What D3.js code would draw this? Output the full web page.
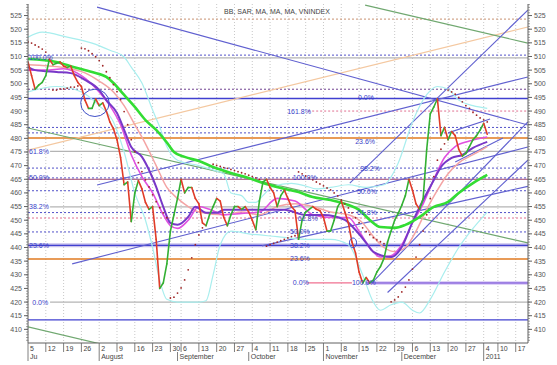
<!DOCTYPE html>
<html><head><meta charset="utf-8">
<script src="https://cdn.jsdelivr.net/npm/d3@7"></script>
<style>body{margin:0;background:#fff}svg{display:block}text{font-family:"Liberation Sans",Arial,sans-serif}</style>
</head><body><svg id="c" width="557" height="365"></svg>
<script>
// ---------- DATA ----------
const title = "BB, SAR, MA, MA, MA, VNINDEX";
const yTickVals = d3.range(410, 526, 5);
const tickDays = [0,5,10,15,20,25,30,35,40,43,48,53,58,63,68,73,78,83,88,93,98,103,108,113,118,123,128,132,137];
const tickLabels = ["5","12","19","26","2","9","16","23","30","6","13","20","27","4","11","18","25","1","8","15","22","29","6","13","20","27","4","10","17"];
const monthDays = [0,20,42,62,83,105,128];
const monthLabels = ["Ju","August","September","October","November","December","2011"];

// close (trading-day index -> VNINDEX)
const priceVal = [508,503,498,499.5,500.5,503,509,507,507.5,508,506.5,506,506.5,503,500.5,499,494,491,491,494.5,
 492,493,490,486,483.5,479.5,473,463,464,449.5,460,464.5,461.5,456.5,454,455,443,425,427,434,
 446,452,458,465,460,462,462,458,456,449,448,452,455,458,457,451,448,452,455,455,
 454,455,453,450,446.5,457,464,465,462,460,455,459,461,458,455,453.5,443,450,453,454,
 455,454,453.5,451,446,446,450,455,457,453,449,442,438,431,427,429,427,428,431,433,
 436,442,446,450,452.5,455.5,459,465,461,456,454,458,476,489,491.5,494.5,481,484,479.5,482.5,
 481,476,473.5,474.5,477,479.5,481,483,485.5,481.5];

const maGreenDay = [0,8,13,18,22,24,27,30,33,36,39,41,44,48,52,57,62,66,71,76,80,85,90,93,96,99,103,106,110,114,118,121,125,129];
const maGreenVal = [509.1,508,506.1,504.3,502.5,500.3,495.9,491.5,486.7,483.1,478.5,475,473.2,471.7,469.5,467.3,465.5,463.6,461.8,460.3,458.5,457.4,455.6,453.8,450.1,447.5,447.2,448.3,451.2,454.9,456.7,460,463.6,466.6];

const maPurpleDay = [0,2,8,12,16,20,22,25,27,29,32,34,36,38,40,42,45,47,50,53,55,61,67,72,78,83,89,92,95,97,102,105,108,111,114,116,119,122,125,129];
const maPurpleVal = [506.1,505,504.3,503.9,501.4,497.7,494,489.3,483.1,476.8,473.2,468.4,462.2,454.9,449,448.3,451.2,454.9,452.7,452.7,453.8,453.8,453.8,453.8,451.9,451.9,450.1,446.4,441.7,438.4,436.5,440.2,449.3,457.4,464.7,469.5,472.8,473.9,476.5,478.7];

const maMagentaDay = [0,5,10,15,20,23,26,29,32,35,38,40,42,45,48,51,55,60,65,70,75,80,85,90,93,96,99,102,105,108,111,114,117,120,124,129];
const maMagentaVal = [505,505,505.5,503,497,492,485,474,466,460,452,448,447,450,455,454,452,452.5,453,458,457,452,451,451,446,440,436.5,437,441,449,456,465,473,477,479,480.5];

const maPinkDay = [0,10,16,20,24,27,30,33,36,39,42,45,48,55,60,65,70,75,80,85,90,94,97,100,103,106,109,112,115,118,121,125,129];
const maPinkVal = [507,506,504,501,497,492,485,478,470,462,458,455,453,452,453,452,455,456,455,453,452,449,444,440,438.5,440,446,454,461,467,471,474,477];

const bbUpDay = [0,4,11,18,23,27,29,32,35,37,39,42,48,53,55,57,60,62,64,66,69,74,78,81,85,90,95,100,104,108,112,115,118,121,125,129];
const bbUpVal = [517.1,518.9,517.1,514.9,512.3,509.8,506.1,500.3,490.4,484.2,477,472,470,468,467,460,459,456.5,456.5,459,462.5,463.5,462.5,461.5,462,463,462,463,471,486,496,499,498,494,492,491];
const bbLoDay = [0,8,15,20,24,27,30,33,35,37,39,42,48,50,52,54,57,62,70,78,85,90,94,97,99,102,105,108,110,113,117,121,125,129];
const bbLoVal = [497,499,497,492,486,475,460,450,440,428,421,420,420,420.5,430,441,446,445,444,443,443,441,430,420,417,419,420,417,416,421,431,440,447,453];

// parabolic SAR dots
const sarDay = [0,1,2,3,4,5, 7,8,9,10,11,12,13,14,
 15,16,17,18,19,20,21,22,23,24,25,26,27,28,29,30,31,32,33,34,35,36,37,38,39,
 40,41,42,43,44,45,46,47,48,49,
 52,53,54,55,56,57,58,59,60,61,62,63,64,65,
 67,68,69,70,71,72,73,74,75,
 76,77,78,79,80,81,82,83,84,85,86,87,88,89,90,91,92,93,94,95,96,97,98,99,100,
 102,103,104,105,106,107,108,109,110,111,112,113,114,115,116,117,
 118,119,120,121,122,123,124,125,126,127,128,129];
const sarVal = [515.3,514.9,514.2,513.5,512.7,511.6, 497.7,497.7,498.1,498.1,498.4,498.8,498.8,499.2,
 513.1,512.8,512.1,511,509.9,508.5,506.6,504.4,502.2,499.7,497.1,494.2,489.8,485,479.5,475.1,471.1,467.8,464.8,462.2,459.3,456.8,454.6,452.7,450.9,
 421.5,421.8,423.3,425.2,428.1,431.8,436.2,441,444.6,447.2,
 470.5,470.1,469.7,469.3,469,468.6,468.2,467.8,467.4,467,466.5,466,465.5,465,
 440.5,441,441.5,442,442.5,443,443.5,444,444.3,
 467.7,467,466.2,465.5,464.8,464,463.3,462.6,461.8,461.1,460,458.9,457.4,456,454.5,452.7,450.9,449.1,447.2,445.8,444.7,443.6,442.8,442.1,441.4,
 420.1,420.8,421.9,423.7,425.5,428.1,432.1,436.5,441,446,452,458,466,472,476,478,
 497.7,497,496.2,495,493.4,492,491,489.5,488.5,487.5,486.8,486];

// horizontal levels [fromDay, value]
const dottedBlue = [[0,510.5],[0,484],[0,482],[0,469.1],[0,465.5],[0,460.8],[0,452.8],[0,445.7]];
const dottedPurple = [[0,498]];
const dottedPink = [[78.7,490],[0,450.8]];
const dottedBrown = [[0,523.7]];
const solidGray = [[0,509.5],[6.2,475.2],[6.2,454.9],[6.2,420]];
const solidOrange = [[0,480.1],[0,435.8]];
const solidBlue = [[0,494.6],[0,440.8],[0,413.5]];
const solidMaroon = [[0,465]];
const pinkSeg = [78.4, 91, 427];
const lavenderSeg = [94.7, 140.5, 427];

// trend lines [day0, val0, day1, val1]
const blueTrends = [[19.4,528.1,140.4,484.9],[19.4,462.9,140.4,502.5],[12.4,434,140.4,476.8],
 [90.4,463.6,140.4,527],[96.6,427,140.4,486],[101,423.5,140.4,472],[65.7,440.6,140.4,462.4],
 [118,482,129.8,487.1],[120,471.3,133.4,480.1]];
const greenTrends = [[94.7,528.8,140.4,514.9],[0,483.8,140.4,441.7],[0,410.9,20.2,404.7]];
const tanTrends = [[0,475.7,140.4,520.8]];

// fib labels [text, day, value]
const fibLabels = [["100.0%",0.3,509.8],["61.8%",0.3,475.2],["50.0%",0.3,465.5],["38.2%",0.3,454.9],["23.6%",0.3,440.8],["0.0%",1.2,420],
 ["100.0%",74.4,465.8],["61.8%",75.8,450.8],["50.0%",73.6,446],["38.2%",73.6,440.8],["23.6%",73.6,435.8],["0.0%",74.4,427],["100.0%",91,427],
 ["0.0%",92.7,494.8],["161.8%",72.8,490],["23.6%",91.9,478.8],["38.2%",93.3,469.1],["50.0%",92.4,460.7],["61.8%",92.4,452.8]];

const circles = [[18.8,493,4,5],[91.3,441.7,1,1.8]];

// ---------- CHART ----------
const svg = d3.select("#c");
const L = 28, R = 528, T = 4, B = 343;
const x = d3.scaleLinear().domain([0, 140.45]).range([L, R]);
const y = d3.scaleLinear().domain([405, 530.7]).range([B, 0]);

svg.append("defs").append("clipPath").attr("id","pc").append("rect")
  .attr("x",L).attr("y",T).attr("width",R-L).attr("height",B-T);
const g = svg.append("g").attr("clip-path","url(#pc)");

// vertical grid
g.selectAll(".vg").data(tickDays).enter().append("line")
  .attr("x1",d=>x(d)).attr("x2",d=>x(d)).attr("y1",T).attr("y2",B)
  .attr("stroke","#c8c8c8").attr("stroke-dasharray","1,2");

function hlines(data, color, w, dash){
  g.selectAll(null).data(data).enter().append("line")
   .attr("x1",d=>x(d[0])).attr("x2",R).attr("y1",d=>y(d[1])).attr("y2",d=>y(d[1]))
   .attr("stroke",color).attr("stroke-width",w).attr("stroke-dasharray",dash||null);
}
hlines(solidBlue.slice(1,2), "#c8c0ec", 4);
hlines(dottedBrown, "#c89070", 1, "2,2");
hlines(dottedBlue, "#5050c8", 1, "2,2");
hlines(dottedPurple, "#704090", 1, "2,2");
hlines(dottedPink, "#e07090", 1, "2,2");
hlines(solidGray, "#b4b4b4", 1.2);
hlines(solidOrange, "#e07a20", 1.5);
hlines(solidMaroon, "#a04870", 1);
hlines(solidBlue, "#4040d0", 1.3);
g.append("line").attr("x1",x(lavenderSeg[0])).attr("x2",x(lavenderSeg[1])).attr("y1",y(lavenderSeg[2])).attr("y2",y(lavenderSeg[2]))
  .attr("stroke","#c0a8f0").attr("stroke-width",3);
g.append("line").attr("x1",x(lavenderSeg[0])).attr("x2",x(lavenderSeg[1])).attr("y1",y(lavenderSeg[2])).attr("y2",y(lavenderSeg[2]))
  .attr("stroke","#8060d8").attr("stroke-width",1);
g.append("line").attr("x1",x(pinkSeg[0])).attr("x2",x(pinkSeg[1])).attr("y1",y(pinkSeg[2])).attr("y2",y(pinkSeg[2]))
  .attr("stroke","#f07090").attr("stroke-width",1.2);

function trends(data, color, w){
  g.selectAll(null).data(data).enter().append("line")
   .attr("x1",d=>x(d[0])).attr("y1",d=>y(d[1])).attr("x2",d=>x(d[2])).attr("y2",d=>y(d[3]))
   .attr("stroke",color).attr("stroke-width",w);
}
trends(tanTrends, "#f4c8a0", 1.2);
trends(greenTrends, "#70a870", 1.2);
trends(blueTrends, "#6060d0", 1.1);

// Bollinger + moving averages
function curve(days, vals, color, w){
  g.append("path").datum(days.map((d,i)=>[d, vals[i]]))
   .attr("d", d3.line().x(d=>x(d[0])).y(d=>y(d[1])).curve(d3.curveMonotoneX))
   .attr("fill","none").attr("stroke",color).attr("stroke-width",w);
}
curve(bbUpDay, bbUpVal, "#a8eeee", 1.2);
curve(bbLoDay, bbLoVal, "#a8eeee", 1.2);
curve(maPinkDay, maPinkVal, "#f4a4a4", 1.5);
curve(maMagentaDay, maMagentaVal, "#e050e0", 1.6);
curve(maPurpleDay, maPurpleVal, "#7838c8", 2);
curve(maGreenDay, maGreenVal, "#33dd33", 2.6);

// price
const segs = priceVal.slice(1).map((v,i)=>[i, priceVal[i], i+1, v]);
g.selectAll(".ps").data(segs).enter().append("line")
  .attr("x1",d=>x(d[0])).attr("y1",d=>y(d[1])).attr("x2",d=>x(d[2])).attr("y2",d=>y(d[3]))
  .attr("stroke",d=>d[3]>=d[1]?"#33b033":"#e03c28").attr("stroke-width",1.6).attr("stroke-linecap","round");

// SAR
g.selectAll(".sar").data(sarDay.map((d,i)=>[d, sarVal[i]])).enter().append("circle")
  .attr("cx",d=>x(d[0])).attr("cy",d=>y(d[1])).attr("r",0.9).attr("fill","#a02828");

// circles
g.selectAll(".ci").data(circles).enter().append("ellipse")
  .attr("cx",d=>x(d[0])).attr("cy",d=>y(d[1]))
  .attr("rx",d=>x(d[2])-x(0)).attr("ry",d=>y(0)-y(d[3]))
  .attr("fill","none").attr("stroke","#4050c8").attr("stroke-width",1);

// fib labels
g.selectAll(".fl").data(fibLabels).enter().append("text")
  .attr("x",d=>x(d[1])).attr("y",d=>y(d[2])+2.5).text(d=>d[0])
  .attr("font-size",7).attr("fill","#3840c8");

// title
svg.append("text").attr("x",277).attr("y",14).attr("text-anchor","middle")
  .attr("font-size",7).attr("fill","#444").text(title);

// axes
const axCol = "#606060";
svg.append("line").attr("x1",L).attr("x2",L).attr("y1",T).attr("y2",B).attr("stroke",axCol);
svg.append("line").attr("x1",R).attr("x2",R).attr("y1",T).attr("y2",B).attr("stroke",axCol);
svg.append("line").attr("x1",L).attr("x2",R).attr("y1",B).attr("y2",B).attr("stroke",axCol);
const minor = d3.range(406, 530, 1);
svg.selectAll(".mtl").data(minor).enter().append("line")
  .attr("x1",L-2).attr("x2",L).attr("y1",d=>y(d)).attr("y2",d=>y(d)).attr("stroke",axCol).attr("stroke-width",0.6);
svg.selectAll(".mtr").data(minor).enter().append("line")
  .attr("x1",R).attr("x2",R+2).attr("y1",d=>y(d)).attr("y2",d=>y(d)).attr("stroke",axCol).attr("stroke-width",0.6);
svg.selectAll(".tl").data(yTickVals).enter().append("line")
  .attr("x1",L-4).attr("x2",L).attr("y1",d=>y(d)).attr("y2",d=>y(d)).attr("stroke",axCol);
svg.selectAll(".tr").data(yTickVals).enter().append("line")
  .attr("x1",R).attr("x2",R+4).attr("y1",d=>y(d)).attr("y2",d=>y(d)).attr("stroke",axCol);
svg.selectAll(".yl").data(yTickVals).enter().append("text")
  .attr("x",L-6).attr("y",d=>y(d)+2.5).attr("text-anchor","end").attr("font-size",7).attr("fill","#555").text(d=>d);
svg.selectAll(".yr").data(yTickVals).enter().append("text")
  .attr("x",R+6).attr("y",d=>y(d)+2.5).attr("font-size",7).attr("fill","#555").text(d=>d);

// x axis
svg.selectAll(".xt").data(tickDays).enter().append("line")
  .attr("x1",d=>x(d)).attr("x2",d=>x(d)).attr("y1",B).attr("y2",B+9).attr("stroke",axCol).attr("stroke-width",0.8);
svg.selectAll(".xl").data(tickDays).enter().append("text")
  .attr("x",d=>x(d)+2).attr("y",B+7.5).attr("font-size",7).attr("fill","#444").text((d,i)=>tickLabels[i]);
svg.selectAll(".mt").data(monthDays).enter().append("line")
  .attr("x1",d=>x(d)).attr("x2",d=>x(d)).attr("y1",B+9).attr("y2",B+18).attr("stroke",axCol).attr("stroke-width",0.8);
svg.selectAll(".ml").data(monthDays).enter().append("text")
  .attr("x",d=>x(d)+2).attr("y",B+16).attr("font-size",7).attr("fill","#444").text((d,i)=>monthLabels[i]);
</script></body></html>
